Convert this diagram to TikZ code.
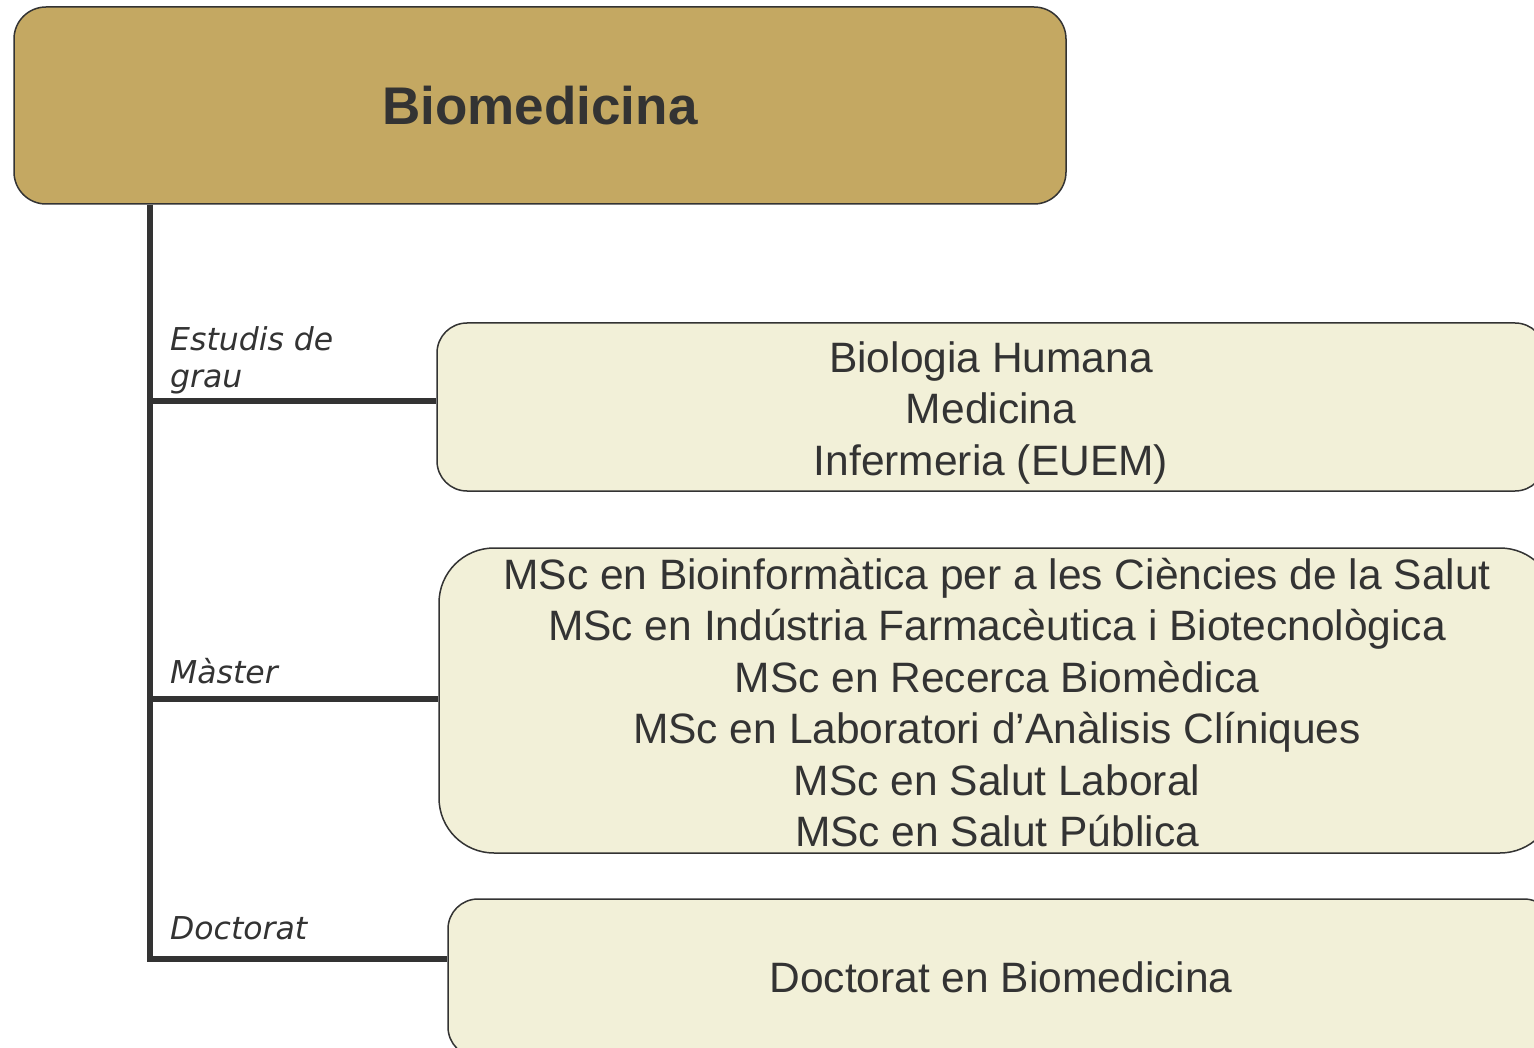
\documentclass[tikz,border=0pt]{standalone}
\usepackage{fontspec}
\setmainfont{Liberation Sans}
\newfontfamily\labfont{DejaVu Sans}
\definecolor{gold}{HTML}{C4A862}
\definecolor{cream}{HTML}{F2F0D8}
\definecolor{ink}{HTML}{333333}
\newcommand\lnstrut{\rule[-0.212em]{0pt}{1.117em}}
\newcommand\topstrut[1]{\rule[-0.212em]{0pt}{\dimexpr1.117em+#1\relax}}
\begin{document}
\begin{tikzpicture}[x=1pt,y=-1pt,
  topbox/.style={draw=ink,line width=1.5pt,fill=gold,rounded corners=32pt,inner sep=0pt,
    text=ink,font=\fontsize{53}{60}\selectfont\bfseries},
  itembox/.style={draw=ink,line width=1.5pt,fill=cream,inner sep=0pt,align=center,
    text=ink,font=\fontsize{42.5}{51.4}\selectfont},
  lab/.style={inner sep=0pt,anchor=base west,align=left,text=ink,
    font=\labfont\itshape\fontsize{31.5}{37}\selectfont},
  conn/.style={draw=ink,line width=5.5pt}]
\useasboundingbox (0,0) rectangle (1534,1048);
\clip (0,0) rectangle (1534,1048);
\fill[white] (0,0) rectangle (1534,1048);

\node[topbox,minimum width=1052pt,minimum height=197pt] (top) at (540,105.5) {Biomedicina};
\node[itembox,rounded corners=30pt,minimum width=1108pt,minimum height=168pt] (b1) at (991,407)
  {\topstrut{4pt}Biologia Humana\\\lnstrut Medicina\\\lnstrut Infermeria (EUEM)};
\node[itembox,rounded corners=55pt,minimum width=1116pt,minimum height=305pt] (b2) at (997,700.5)
  {\topstrut{-3pt}MSc en Bioinformàtica per a les Ciències de la Salut\\
   MSc en Indústria Farmacèutica i Biotecnològica\\
   MSc en Recerca Biomèdica\\
   MSc en Laboratori d’Anàlisis Clíniques\\
   MSc en Salut Laboral\\
   MSc en Salut Pública};
\node[itembox,rounded corners=30pt,minimum width=1106pt,minimum height=158pt] (b3) at (1001,978)
  {\lnstrut Doctorat en Biomedicina};

\coordinate (s0) at (150,204);
\coordinate (s1) at (150,401);
\coordinate (s2) at (150,699);
\coordinate (s3) at (150,959);

\draw[conn] (top.south -| s0) -- (s3) -- (s3 -| b3.west);
\draw[conn] (s1) -- (s1 -| b1.west);
\draw[conn] (s2) -- (s2 -| b2.west);

\node[lab] (l1) at (170,388) {Estudis de\\grau};
\node[lab] (l2) at (170,683) {Màster};
\node[lab] (l3) at (170,939) {Doctorat};
\end{tikzpicture}
\end{document}
